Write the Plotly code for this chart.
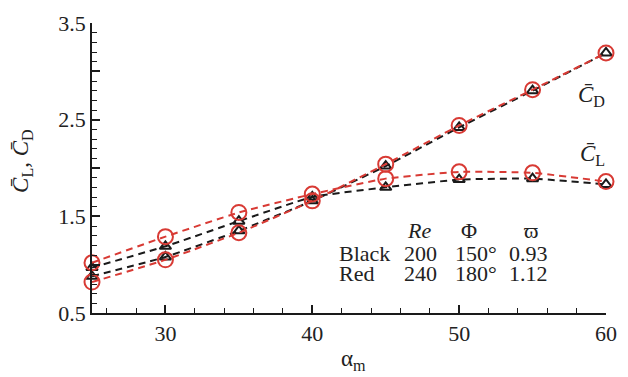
import plotly.graph_objects as go

alpha = [25, 30, 35, 40, 45, 50, 55, 60]
cd_black = [0.88, 1.08, 1.35, 1.66, 2.02, 2.42, 2.80, 3.19]
cd_red = [0.82, 1.05, 1.33, 1.66, 2.04, 2.44, 2.81, 3.19]
cl_black = [0.97, 1.19, 1.45, 1.70, 1.80, 1.88, 1.89, 1.83]
cl_red = [1.02, 1.29, 1.54, 1.73, 1.89, 1.96, 1.95, 1.86]

y_ticks = [0.5, 1.0, 1.5, 2.0, 2.5, 3.0, 3.5]
y_ticktext = ["0.5", "", "1.5", "", "2.5", "", "3.5"]
x_ticks = [30, 40, 50, 60]

BLACK = "#1a1a1a"
RED = "#d83a34"
FONT = "Liberation Serif"

fig = go.Figure()

def add_series(y, color, symbol, size, name):
    fig.add_trace(go.Scatter(
        x=alpha, y=y, mode="lines+markers", name=name,
        line=dict(color=color, width=2, dash="7px,5px", shape="spline", smoothing=0.4),
        marker=dict(symbol=symbol, size=size, color=color,
                    line=dict(color=color, width=2)),
        cliponaxis=False, showlegend=False))

add_series(cl_black, BLACK, "triangle-up-open", 10, "CL black")
add_series(cd_black, BLACK, "triangle-up-open", 10, "CD black")
add_series(cl_red, RED, "circle-open", 15, "CL red")
add_series(cd_red, RED, "circle-open", 15, "CD red")

tf = dict(family=FONT, size=22, color="#222")

# curve labels
fig.add_annotation(x=59.0, y=2.75, text="<i>C\u0304</i><sub>D</sub>", showarrow=False,
                   font=dict(family=FONT, size=23, color="#222"))
fig.add_annotation(x=59.1, y=2.13, text="<i>C\u0304</i><sub>L</sub>", showarrow=False,
                   font=dict(family=FONT, size=23, color="#222"))

# parameter table
table = [
    (47.3, 1.35, "<i>Re</i>", "center"),
    (50.7, 1.35, "\u03a6", "center"),
    (54.9, 1.35, "\u03d6", "center"),
    (41.65, 1.12, "Black", "left"),
    (47.37, 1.12, "200", "center"),
    (51.12, 1.12, "150\u00b0", "center"),
    (54.73, 1.12, "0.93", "center"),
    (41.65, 0.905, "Red", "left"),
    (47.37, 0.905, "240", "center"),
    (51.12, 0.905, "180\u00b0", "center"),
    (54.73, 0.905, "1.12", "center"),
]
for x, y, t, anc in table:
    fig.add_annotation(x=x, y=y, text=t, showarrow=False, xanchor=anc,
                       xref="x", yref="y", font=tf)

# axis titles
fig.add_annotation(xref="paper", yref="paper", x=-0.135, y=0.523, textangle=-90,
                   xanchor="center", yanchor="middle",
                   text="<i>C\u0304</i><sub>L</sub>, <i>C\u0304</i><sub>D</sub>",
                   showarrow=False, font=dict(family=FONT, size=23, color="#222"))
fig.add_annotation(xref="paper", yref="paper", x=0.509, y=-0.163,
                   xanchor="center", yanchor="middle",
                   text="\u03b1<sub>m</sub>",
                   showarrow=False, font=dict(family=FONT, size=23, color="#222"))

fig.update_layout(
    width=628, height=377,
    margin=dict(l=92, r=11, t=13, b=64),
    paper_bgcolor="white", plot_bgcolor="white",
    font=dict(family=FONT, size=22, color="#222"),
    xaxis=dict(
        range=[25, 60], showline=True, linecolor=BLACK, linewidth=1.5,
        showgrid=False, zeroline=False, tickmode="array", tickvals=x_ticks,
        ticks="inside", ticklen=8, tickwidth=1.5, tickcolor=BLACK,
        minor=dict(tickmode="linear", tick0=0, dtick=2, ticks="inside",
                   ticklen=5, tickwidth=1.2, tickcolor=BLACK, showgrid=False),
        tickfont=dict(family=FONT, size=22),
    ),
    yaxis=dict(
        range=[0.5, 3.5], showline=True, linecolor=BLACK, linewidth=1.5,
        showgrid=False, zeroline=False, tickmode="array", tickvals=y_ticks,
        ticktext=y_ticktext, ticks="inside", ticklen=8, tickwidth=1.5, tickcolor=BLACK,
        minor=dict(tickmode="linear", tick0=0.5, dtick=0.1, ticks="inside",
                   ticklen=5, tickwidth=1.2, tickcolor=BLACK, showgrid=False),
        tickfont=dict(family=FONT, size=22),
    ),
)

fig.write_html("out.html")
